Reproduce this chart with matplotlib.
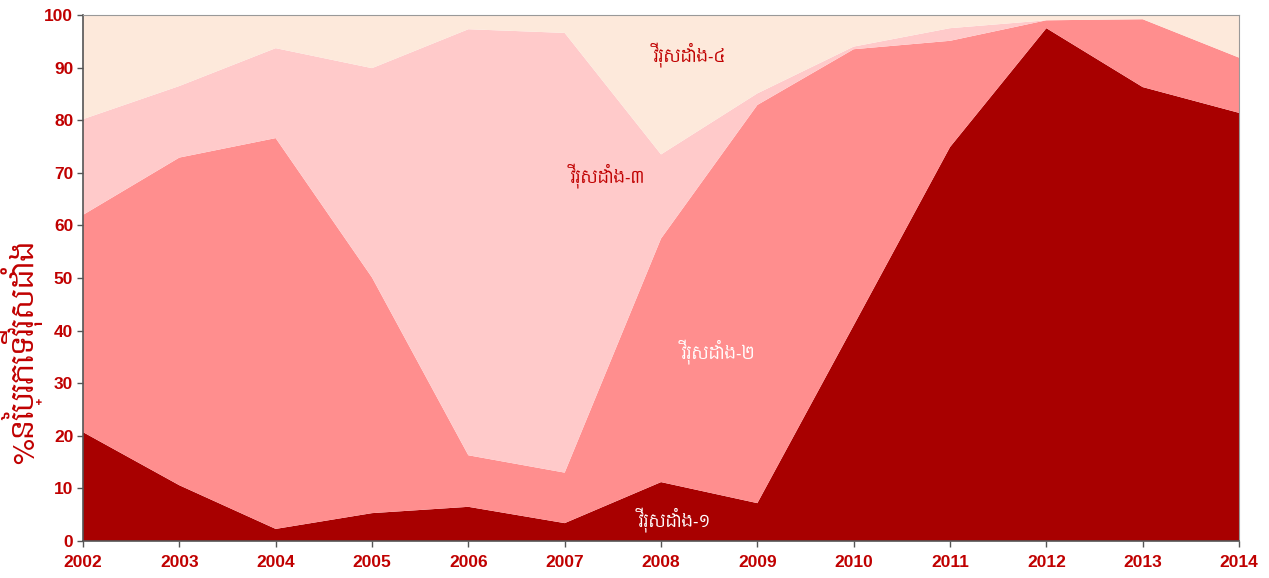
import matplotlib
matplotlib.use('Agg')
import matplotlib.pyplot as plt
import numpy as np

years = [2002, 2003, 2004, 2005, 2006, 2007, 2008, 2009, 2010, 2011, 2012, 2013, 2014]
# percentage of each dengue serotype per year
denv1 = [20.7, 10.6, 2.3, 5.3, 6.5, 3.4, 11.2, 7.2, 41.0, 74.9, 97.5, 86.3, 81.4]
denv2 = [41.3, 62.3, 74.3, 44.8, 9.8, 9.6, 46.3, 75.7, 52.5, 20.2, 1.5, 12.9, 10.5]
denv3 = [18.2, 13.6, 17.1, 39.8, 81.0, 83.6, 16.0, 2.2, 0.5, 2.4, 0.0, 0.0, 0.0]
denv4 = [19.8, 13.5, 6.3, 10.1, 2.7, 3.4, 26.5, 14.9, 6.0, 2.5, 1.0, 0.8, 8.1]
series_names = ['វីរុសដាំង-១', 'វីរុសដាំង-២', 'វីរុសដាំង-៣', 'វីរុសដាំង-៤']
ylabel = '%នៃប្រភេទវីរុសដាំង'

colors = ['#A80000', '#FF8E8E', '#FFCACA', '#FDE9DB']
red = '#C00000'
khmer = ['Content', 'Khmer', 'DejaVu Sans']

fig = plt.figure(figsize=(12.69, 5.78), dpi=100)
ax = fig.add_axes([0.0654, 0.064, 0.911, 0.910])

ax.stackplot(years, denv1, denv2, denv3, denv4, colors=colors, linewidth=0)

ax.set_xlim(2002, 2014)
ax.set_ylim(0, 100)
ax.set_xticks(years)
ax.set_yticks(np.arange(0, 101, 10))

for lab in ax.get_xticklabels() + ax.get_yticklabels():
    lab.set_fontfamily('Liberation Sans')
    lab.set_fontweight('bold')
    lab.set_color(red)
    lab.set_fontsize(12.5)

ax.tick_params(axis='both', direction='out', length=4, width=1, color='#555555', pad=3)
ax.tick_params(axis='x', pad=6)
for side in ['left', 'bottom']:
    ax.spines[side].set_color('#555555')
    ax.spines[side].set_linewidth(1.2)
for side in ['top', 'right']:
    ax.spines[side].set_color('#999999')
    ax.spines[side].set_linewidth(0.8)

ax.set_ylabel(ylabel, family=khmer, fontsize=21, color=red)
ax.yaxis.set_label_coords(-0.035, 0.36)

# labels inside the areas
ax.text(2008.3, 92.5, series_names[3], family=khmer, fontsize=12, color=red, ha='center', va='center')
ax.text(2007.45, 69.5, series_names[2], family=khmer, fontsize=12, color=red, ha='center', va='center')
ax.text(2008.6, 36.0, series_names[1], family=khmer, fontsize=12, color='white', ha='center', va='center')
ax.text(2008.15, 4.0, series_names[0], family=khmer, fontsize=12, color='white', ha='center', va='center')

fig.savefig('out.png')
